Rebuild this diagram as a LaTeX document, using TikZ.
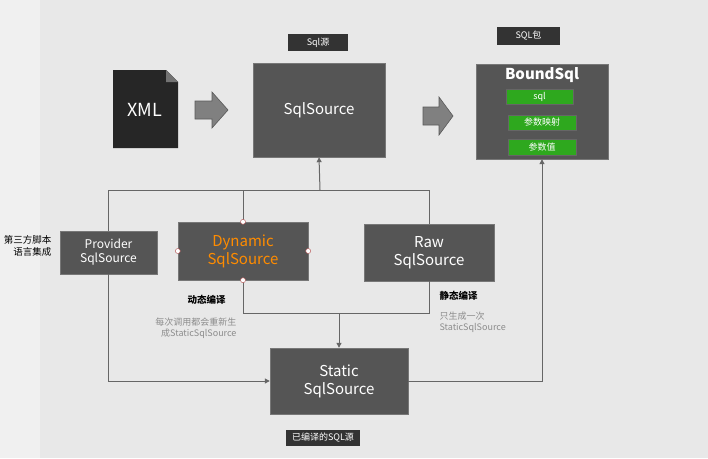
\documentclass[tikz,border=0pt]{standalone}
\usepackage{fontspec}
\setmainfont{Noto Sans CJK SC}
\usetikzlibrary{arrows.meta}
\definecolor{bx}{HTML}{555555}
\definecolor{ln}{HTML}{666666}
\definecolor{gr}{HTML}{2EA81E}
\begin{document}
\begin{tikzpicture}[x=1pt,y=-1pt,
 box/.style={fill=bx,draw=bx!80!white,text=white,font=\fontsize{15}{18}\selectfont,align=center,inner sep=0},
 tag/.style={fill=black!80,text=white,font=\fontsize{9}{10}\selectfont,inner sep=0},
 green/.style={fill=gr,draw=black!60,text=white,font=\fontsize{9}{10}\selectfont,inner sep=0},
 con/.style={draw=ln,line width=1pt},
 arr/.style={con,-{Triangle[length=5pt,width=5pt]}},
 blk/.style={fill=black!50,draw=black!65,line width=0.6pt},
 hnd/.style={circle,draw=red!40!gray,fill=white,inner sep=0,minimum size=5pt}]
\useasboundingbox (0,0) rectangle (708,458);
\fill[black!9] (0,0) rectangle (708,458);
\fill[black!6] (0,0) rectangle (40,458);
% XML doc
\fill[black!85] (113,70) -- (166,70) -- (178,82) -- (178,148) -- (113,148) -- cycle;
\fill[black!55] (166,70) -- (166,82) -- (178,82) -- cycle;
\node[text=white,font=\fontsize{18}{20}\selectfont] (xml) at (145,110) {XML};
\draw[blk] (195,101) -- (212,101) -- (212,92) -- (228,110) -- (212,128) -- (212,119) -- (195,119) -- cycle;
\draw[blk] (423,107) -- (439,107) -- (439,97) -- (453,116) -- (439,135) -- (439,125) -- (423,125) -- cycle;
\node[box,minimum width=132pt,minimum height=94pt] (src) at (319,110) {SqlSource};
\node[tag,minimum width=60pt,minimum height=17pt] (t1) at (318,42.5) {Sql源};
\node[box,minimum width=132pt,minimum height=95pt] (bound) at (542,111.5) {};
\node[text=white,font=\fontsize{15}{17}\selectfont\bfseries] (bt) at (542,75) {BoundSql};
\node[tag,minimum width=63pt,minimum height=18pt] (t2) at (528.5,36) {SQL包};
\node[green,minimum width=67pt,minimum height=15pt] (g1) at (539.5,96.5) {sql};
\node[green,minimum width=68pt,minimum height=15pt] (g2) at (542,122.5) {参数映射};
\node[green,minimum width=68pt,minimum height=16pt] (g3) at (542,147) {参数值};
\node[box,font=\fontsize{12}{14}\selectfont,minimum width=97pt,minimum height=43pt] (prov) at (108.5,252.5) {Provider\\SqlSource};
\node[box,text=orange!90!yellow,minimum width=130pt,minimum height=58pt] (dyn) at (243,251) {Dynamic\\SqlSource};
\node[box,minimum width=130pt,minimum height=57pt] (raw) at (429,252.5) {Raw\\SqlSource};
\node[box,minimum width=138pt,minimum height=66pt] (stat) at (339,381) {Static\\SqlSource};
\node[tag,minimum width=74pt,minimum height=16pt] (t3) at (323,438) {已编译的SQL源};
\coordinate (j1) at (320,190);
\draw[con] (prov.north) |- (j1);
\draw[con] (dyn.north) |- (j1);
\draw[con] (raw.north) |- (j1);
\draw[arr] (j1) -- (src.south);
\coordinate (j2) at (339,313);
\draw[con] (dyn.south) |- (j2);
\draw[con] (raw.south) |- (j2);
\draw[arr] (j2) -- (stat.north);
\draw[arr] (prov.south) |- (stat.west);
\draw[arr] (stat.east) -| (bound.south);
\foreach \a in {north,south,east,west} \node[hnd] at (dyn.\a) {};
\node[font=\fontsize{9.5}{12}\selectfont,align=right,anchor=east] (l1) at (55,246) {第三方脚本\\语言集成};
\node[font=\fontsize{9.5}{11}\selectfont\bfseries,anchor=west] (l2) at (184,300) {动态编译};
\node[text=black!45,font=\fontsize{9}{11}\selectfont,align=right,anchor=north east] (l3) at (240,314) {每次调用都会重新生\\成StaticSqlSource};
\node[font=\fontsize{9.5}{11}\selectfont\bfseries,anchor=west] (l4) at (436,296) {静态编译};
\node[text=black!45,font=\fontsize{9}{11}\selectfont,align=left,anchor=north west] (l5) at (436,308) {只生成一次\\StaticSqlSource};
\end{tikzpicture}
\end{document}
